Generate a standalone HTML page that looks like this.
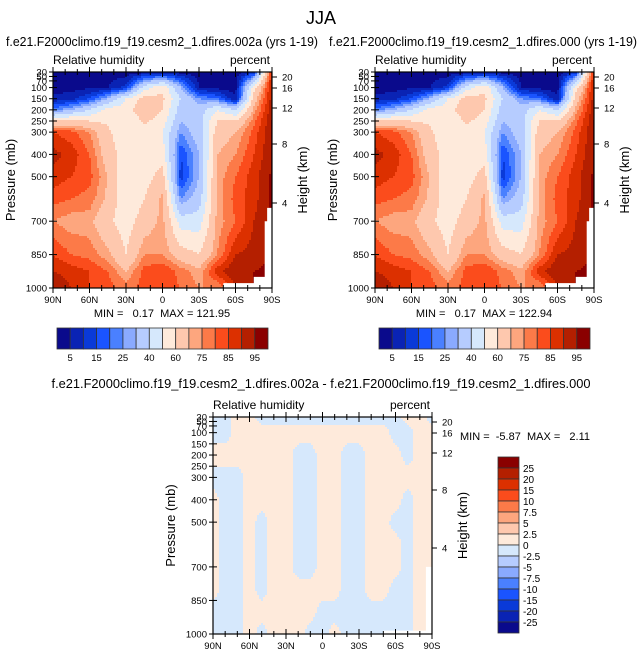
<!DOCTYPE html>
<html><head><meta charset="utf-8">
<style>
html,body{margin:0;padding:0;background:#fff;}
svg{display:block;font-family:"Liberation Sans",sans-serif;}
</style></head>
<body>
<svg id="fig" width="643" height="658" viewBox="0 0 643 658" xmlns="http://www.w3.org/2000/svg">
<text x="321" y="24" font-size="18" text-anchor="middle">JJA</text>
<text x="162" y="46" font-size="13" text-anchor="middle" textLength="312" lengthAdjust="spacingAndGlyphs">f.e21.F2000climo.f19_f19.cesm2_1.dfires.002a (yrs 1-19)</text>
<text x="483" y="46" font-size="13" text-anchor="middle" textLength="308" lengthAdjust="spacingAndGlyphs">f.e21.F2000climo.f19_f19.cesm2_1.dfires.000 (yrs 1-19)</text>
<text x="321" y="388" font-size="13" text-anchor="middle" textLength="539" lengthAdjust="spacingAndGlyphs">f.e21.F2000climo.f19_f19.cesm2_1.dfires.002a - f.e21.F2000climo.f19_f19.cesm2_1.dfires.000</text>
<g id="panels"></g>
</svg>
<script>
// ---- data ----
const lats = [90,75,60,45,30,15,0,-15,-30,-45,-60,-75,-90];
const levels = [30,100,150,200,250,300,400,500,600,700,850,925,1000];
// rows = levels, cols = lats (relative humidity %)
const rhCase1 = [
 [2,2,2,2,2,3,5,3,2,2,2,10,90],
 [3,3,4,5,12,45,58,30,5,3,3,55,92],
 [6,8,15,30,50,65,62,40,25,20,5,65,93],
 [22,30,40,55,55,68,60,35,35,50,40,72,94],
 [60,62,60,58,50,62,55,30,35,60,60,78,95],
 [85,82,75,62,52,55,50,25,35,65,70,82,95],
 [92,88,80,65,55,52,55,15,30,70,75,85,95],
 [88,85,82,70,50,55,65,12,30,72,80,88,96],
 [82,80,78,68,52,60,72,25,35,72,82,88,96],
 [75,72,72,62,55,65,72,45,45,72,80,90,96],
 [85,80,78,72,60,75,75,65,60,75,90,92,96],
 [90,88,85,80,70,82,85,78,72,88,95,95,96],
 [95,90,85,82,78,82,82,80,75,75,90,95,96]
];
const rhCase2 = rhCase1.map(r => r.slice());
const dLats = [90,80,70,60,50,40,30,20,10,0,-10,-20,-30,-40,-50,-60,-70,-80,-90];
const dLevels = [30,100,200,300,400,500,600,700,800,900,1000];
const rhDiff = [
 [-1,-1,1,1,-1,-1,-1,-1,-1,-1,-1,-1,-1,-1,-1,-1,1,1,-1],
 [-1,-1,1,1,1,1,1,1,1,1,1,1,1,1,1,-1,-1,1,1],
 [1,1,1,1,1,1,1,-1,-1,1,1,-1,-1,1,1,1,-1,1,1],
 [-1,-1,-1,1,1,1,1,-1,-1,1,1,-1,-1,1,1,1,1,1,1],
 [1,-1,-1,1,1,1,1,-1,-1,1,1,-1,-1,1,1,1,-1,1,1],
 [1,-1,-1,1,-1,1,1,-1,-1,1,1,-1,-1,1,1,-1,-1,1,1],
 [1,-1,-1,1,-1,1,1,-1,-1,1,1,-1,-1,1,1,1,-1,1,1],
 [1,-1,-1,1,-1,1,1,-1,-1,1,1,-1,-1,1,1,1,-1,1,1],
 [1,-1,-1,1,-1,1,1,1,1,1,1,-1,-1,1,1,-1,-1,1,1],
 [-1,-1,-1,1,1,1,1,1,1,-1,-1,-1,-1,-1,-1,-1,-1,1,1],
 [-1,-1,-1,1,-1,1,1,1,-1,-1,1,-1,-1,-1,-1,-1,-1,1,1]
];
const rhBounds = [5,10,15,20,25,30,40,50,60,70,75,80,85,90,95];
const rhTickLabels = ["5","15","25","40","60","75","85","95"];
const diffBounds = [-25,-20,-15,-10,-7.5,-5,-2.5,0,2.5,5,7.5,10,15,20,25];
const diffLabels = ["25","20","15","10","7.5","5","2.5","0","-2.5","-5","-7.5","-10","-15","-20","-25"];
const palette = ["#0a0a8c","#0a23b4","#0a3ad8","#1a54ff","#4a80ff","#8aaaff","#b6ccff","#d6e8fc","#feeadb","#fec8ae","#fda67e","#fc7a48","#fb4c1c","#dc3000","#b41f00","#8a0000"];
const presTicks = [30,50,70,100,150,200,250,300,400,500,700,850,1000];
const heightTicks = [20,16,12,8,4];
const latTicks = [90,60,30,0,-30,-60,-90];
const latTickLabels = ["90N","60N","30N","0","30S","60S","90S"];

// ---- helpers ----
const NS = "http://www.w3.org/2000/svg";
const root = document.getElementById("panels");
function mk(tag, attrs, parent){const e=document.createElementNS(NS,tag);for(const k in attrs)e.setAttribute(k,attrs[k]);(parent||root).appendChild(e);return e;}
function colorIdx(v,b){let i=0;while(i<b.length && v>=b[i])i++;return i;}
function seg(arr,v){
  const asc = arr[arr.length-1]>arr[0];
  for(let i=0;i<arr.length-1;i++){const a=arr[i],c=arr[i+1];
    if(asc? (v>=a&&v<=c):(v<=a&&v>=c)) return [i,(v-a)/(c-a)];}
  if(asc? v<arr[0] : v>arr[0]) return [0,0];
  return [arr.length-2,1];
}
function sample(grid,la,lv,lat,p){
  const [i,t]=seg(la,lat),[j,s]=seg(lv,p);
  const a=grid[j][i],b=grid[j][i+1],c=grid[j+1][i],d=grid[j+1][i+1];
  return (a*(1-t)+b*t)*(1-s)+(c*(1-t)+d*t)*s;
}

function panel(opt){
  const g = mk("g",{});
  
  
  const X0=opt.x0,X1=opt.x1,Y0=opt.y0,Y1=opt.y1;
  const xS = lat => X0+(90-lat)/180*(X1-X0);
  const yS = p => Y1-(1000-p)/970*(Y1-Y0);
  const latOf = x => 90-(x-X0)/(X1-X0)*180;
  const pOf = y => 1000-(Y1-y)/(Y1-Y0)*970;
  const field = mk("g",{},g);
  
  
  const cs=2;
  for(let y=Y0;y<Y1;y+=cs){
    let runStart=X0,runC=-1;
    for(let x=X0;;x+=cs){
      const end = x>=X1;
      let c=-1;
      if(!end){const v=sample(opt.grid,opt.la,opt.lv,latOf(Math.min(x+cs/2,X1)),pOf(Math.min(y+cs/2,Y1)));c=colorIdx(v,opt.bounds);}
      if(c!==runC || end){
        if(runC>=0){const xe=Math.min(x,X1);
          const r=mk("rect",{x:runStart,y:y,width:xe-runStart+0.5,height:Math.min(cs+0.5,Y1-y),fill:palette[runC]},field);
          
          }
        runStart=x;runC=c;
      }
      if(end) break;
    }
  }
  const mp = opt.mask.map(q=>xS(q[0])+","+yS(q[1])).join(" ");
  const m = mk("polygon",{points:mp,fill:"#fff"},g);
  
  
  const fr = mk("rect",{x:X0,y:Y0,width:X1-X0,height:Y1-Y0,fill:"none",stroke:"#000","stroke-width":1.2},g);
  
  
  presTicks.forEach(p=>{
    const y=yS(p);
    const t = mk("line",{x1:X0-4,x2:X0+4,y1:y,y2:y,stroke:"#000"},g);
    
    
    const l = mk("text",{x:X0-6,y:y+3.5,"font-size":9.5,"text-anchor":"end"},g);
    l.textContent=p;
    
    
  });
  heightTicks.forEach((h,k)=>{
    const y=opt.hY[k];
    const t = mk("line",{x1:X1,x2:X1+5,y1:y,y2:y,stroke:"#000"},g);
    
    
    const l = mk("text",{x:X1+10,y:y+3.5,"font-size":9.5},g);
    l.textContent=h;
    
    
  });
  for(let lat=90;lat>=-90;lat-=10){
    const x=xS(lat), major = lat%30===0, len=major?5:3;
    const t = mk("line",{x1:x,x2:x,y1:Y1-len,y2:Y1+len,stroke:"#000"},g);
    
    
    const t2 = mk("line",{x1:x,x2:x,y1:Y0-len,y2:Y0+len,stroke:"#000"},g);
    
    
  }
  latTicks.forEach((lat,k)=>{
    const l = mk("text",{x:xS(lat),y:Y1+15,"font-size":9.5,"text-anchor":"middle"},g);
    l.textContent=latTickLabels[k];
    
    
  });
  const a = mk("text",{x:X0,y:Y0-8,"font-size":12},g); a.textContent="Relative humidity";
   
  const b = mk("text",{x:X1-2,y:Y0-8,"font-size":12,"text-anchor":"end"},g); b.textContent="percent";
   
  const cy=(Y0+Y1)/2;
  const yl = mk("text",{x:X0-38,y:cy,"font-size":13,"text-anchor":"middle",transform:`rotate(-90 ${X0-38} ${cy})`},g); yl.textContent="Pressure (mb)";
   
  const hl = mk("text",{x:X1+35,y:cy,"font-size":13,"text-anchor":"middle",transform:`rotate(-90 ${X1+35} ${cy})`},g); hl.textContent="Height (km)";
   
  const mm = mk("text",{x:opt.mmX,y:opt.mmY,"font-size":11,"text-anchor":opt.mmAnchor},g); mm.textContent=opt.minmax;
  mm.style.whiteSpace="pre";
   
}

function hColorbar(x0,y0,w,h,name){
  const g=mk("g",{});
  
  
  const bw=w/16;
  palette.forEach((c,i)=>{
    const r=mk("rect",{x:x0+i*bw,y:y0,width:bw,height:h,fill:c,stroke:"#333","stroke-width":0.8},g);
     
  });
  rhTickLabels.forEach((t,k)=>{
    const l=mk("text",{x:x0+(2*k+1)*bw,y:y0+h+12,"font-size":9.5,"text-anchor":"middle"},g); l.textContent=t;
     
  });
}
function vColorbar(x0,y0,w,h){
  const g=mk("g",{});
  
  
  const bh=h/16;
  palette.slice().reverse().forEach((c,i)=>{
    const r=mk("rect",{x:x0,y:y0+i*bh,width:w,height:bh,fill:c,stroke:"#333","stroke-width":0.8},g);
     
  });
  diffLabels.forEach((t,k)=>{
    const l=mk("text",{x:x0+w+4,y:y0+(k+1)*bh+4,"font-size":10},g); l.textContent=t;
     
  });
}

const topMask=[[-50,1000],[-50,978],[-75,978],[-75,950],[-84,950],[-84,700],[-86,700],[-86,640],[-90,640],[-90,1000]];
panel({name:"case1-panel",x0:53,x1:272,y0:72,y1:288,grid:rhCase1,la:lats,lv:levels,bounds:rhBounds,
  hY:[77,88,108,144,203],minmax:"MIN =   0.17  MAX = 121.95",mmX:162,mmY:317,mmAnchor:"middle",mask:topMask});
panel({name:"case2-panel",x0:375,x1:594,y0:72,y1:288,grid:rhCase2,la:lats,lv:levels,bounds:rhBounds,
  hY:[77,88,108,144,203],minmax:"MIN =   0.17  MAX = 122.94",mmX:484,mmY:317,mmAnchor:"middle",mask:topMask});
panel({name:"diff-panel",x0:213,x1:432,y0:417,y1:634,grid:rhDiff,la:dLats,lv:dLevels,bounds:diffBounds,
  hY:[422,433,453,490,548],minmax:"MIN =  -5.87  MAX =   2.11",mmX:460,mmY:440,mmAnchor:"start",mask:[[-50,1000],[-50,985],[-85,985],[-85,700],[-90,700],[-90,1000]]});
hColorbar(57,328,211,21,"case1-colorbar");
hColorbar(379,328,211,21,"case2-colorbar");
vColorbar(498,457,21,176);
</script>
</body></html>
